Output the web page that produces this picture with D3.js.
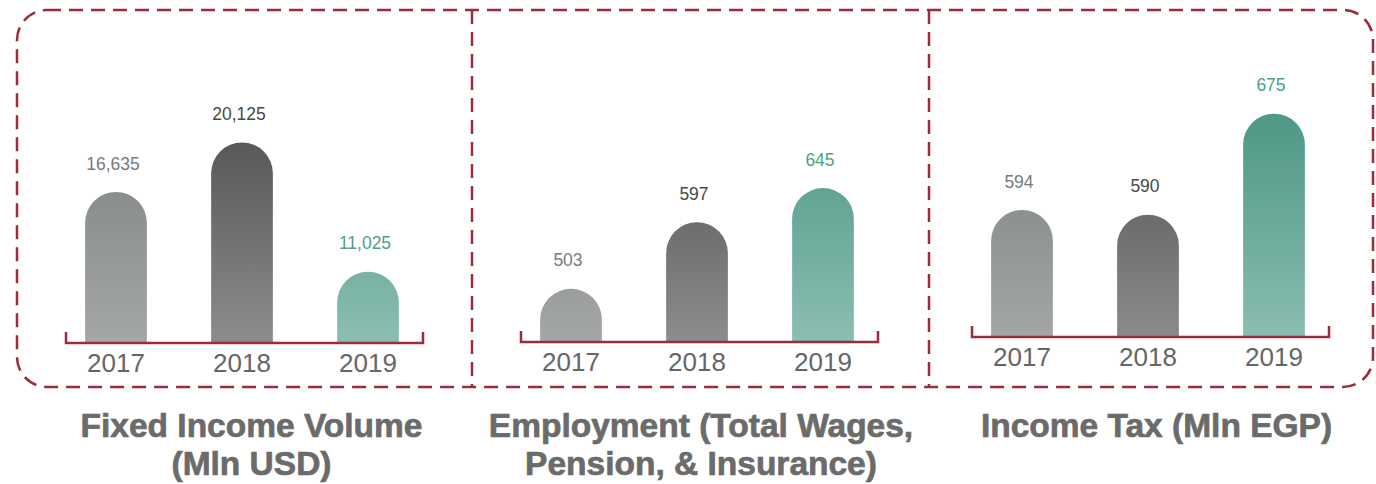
<!DOCTYPE html>
<html>
<head>
<meta charset="utf-8">
<script src="https://cdn.jsdelivr.net/npm/d3@7"></script>
<style>
  body { margin:0; background:#fff; }
  svg { display:block; font-family:"Liberation Sans", Arial, sans-serif; }
</style>
</head>
<body>
<svg id="chart" width="1376" height="484"></svg>
<script>
// data
var years = ["2017", "2018", "2019"];
var fixedIncome = [16635, 20125, 11025];
var employment = [503, 597, 645];
var incomeTax = [594, 590, 675];
var titles = [
  ["Fixed Income Volume", "(Mln USD)"],
  ["Employment (Total Wages,", "Pension, & Insurance)"],
  ["Income Tax (Mln EGP)"]
];

var svg = d3.select("#chart");
var maroon = "#9b2c3c";

// gradients
var defs = svg.append("defs");
function grad(id, c0, c1){
  var g = defs.append("linearGradient").attr("id", id)
    .attr("gradientUnits", "userSpaceOnUse")
    .attr("x1", 0).attr("x2", 0).attr("y1", 110).attr("y2", 343);
  g.append("stop").attr("offset", "0%").attr("stop-color", c0);
  g.append("stop").attr("offset", "100%").attr("stop-color", c1);
}
grad("g2017", "#7c8080", "#a4a6a7");
grad("g2018", "#4f5150", "#8c8c8c");
grad("g2019", "#4d9784", "#8bbeb2");
var fills = ["url(#g2017)", "url(#g2018)", "url(#g2019)"];
var labelColors = ["#7a7a7a", "#484848", "#4f9e8c"];

// dashed frame
svg.append("rect")
  .attr("x", 17).attr("y", 10).attr("width", 1356).attr("height", 377)
  .attr("rx", 30).attr("ry", 30)
  .attr("fill", "none").attr("stroke", maroon)
  .attr("stroke-width", 2.5).attr("stroke-dasharray", "14,8");
[472, 929].forEach(function(x){
  svg.append("line").attr("x1", x).attr("x2", x).attr("y1", 10).attr("y2", 387)
    .attr("stroke", maroon).attr("stroke-width", 2.5).attr("stroke-dasharray", "14,8");
});

// panels: middle bar centre, baseline, value domain for scale
var panels = [
  {vals: fixedIncome, cx: 242, base: 343, dom: [6000, 21000], top: 213},
  {vals: employment,  cx: 697, base: 342, dom: [428, 700],   top: 193},
  {vals: incomeTax,   cx: 1148, base: 337, dom: [487, 700],  top: 253}
];
var fmt = d3.format(",");

panels.forEach(function(p, i){
  var g = svg.append("g");
  var x = d3.scaleBand().domain(years)
    .range([p.cx - 189, p.cx + 189]).paddingInner(0.51).paddingOuter(0.255);
  var y = d3.scaleLinear().domain(p.dom).range([p.base, p.base - p.top]);
  var bw = x.bandwidth(), r = bw / 2;

  p.vals.forEach(function(v, j){
    var x0 = x(years[j]), yt = y(v);
    var path = "M" + x0 + "," + p.base +
      "V" + (yt + r) +
      "A" + r + "," + r + " 0 0 1 " + (x0 + bw) + "," + (yt + r) +
      "V" + p.base + "Z";
    g.append("path").attr("d", path).attr("fill", fills[j]);
    g.append("text")
      .attr("x", x0 + r - 3).attr("y", yt - 27)
      .attr("text-anchor", "middle").attr("dominant-baseline", "middle")
      .attr("font-size", 17.5).attr("fill", labelColors[j])
      .text(fmt(v));
    g.append("text")
      .attr("x", x0 + r).attr("y", p.base + 22)
      .attr("text-anchor", "middle").attr("dominant-baseline", "middle")
      .attr("font-size", 26).attr("fill", "#666")
      .text(years[j]);
  });

  // bracket axis
  var xl = p.cx - 176, xr = p.cx + 181;
  g.append("path")
    .attr("d", "M" + xl + "," + (p.base - 11) + "V" + p.base + "H" + xr + "V" + (p.base - 11))
    .attr("fill", "none").attr("stroke", maroon).attr("stroke-width", 2.5);

  // title
  var tcx = [251.5, 701, 1156.5][i];
  titles[i].forEach(function(line, k){
    svg.append("text")
      .attr("x", tcx).attr("y", 437 + k * 38)
      .attr("text-anchor", "middle")
      .attr("font-size", 33.5).attr("font-weight", "bold").attr("fill", "#6b6b6b")
      .attr("stroke", "#6b6b6b").attr("stroke-width", 0.7)
      .text(line);
  });
});
</script>
</body>
</html>
